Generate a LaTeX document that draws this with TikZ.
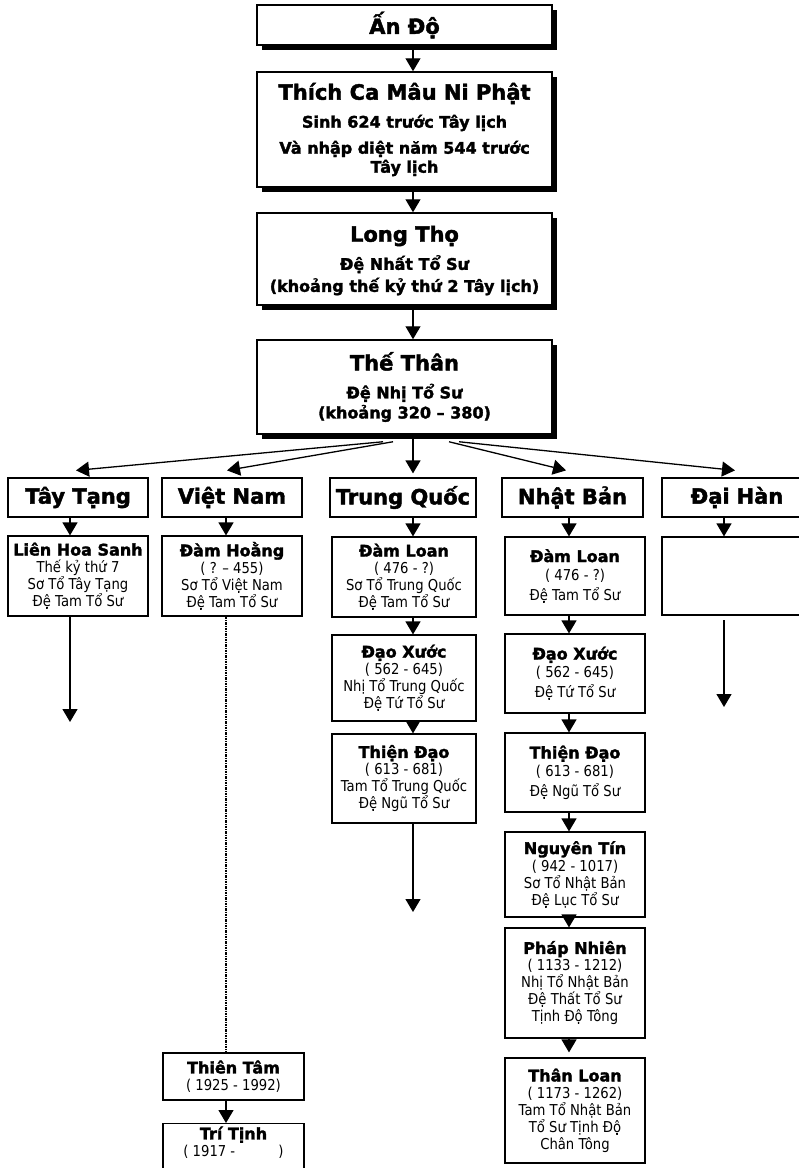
\documentclass[tikz,border=0pt]{standalone}
\usepackage{fontspec}
\setmainfont{DejaVu Sans}[BoldFeatures={FakeBold=2}]
\newfontfamily\regf{DejaVu Sans}[FakeStretch=0.88]
\usetikzlibrary{arrows.meta,shadows}
\newcommand\ttl[1]{{\fontsize{21}{24}\selectfont #1}}
\newcommand\nm[1]{{\rmfamily\fontsize{16}{18}\selectfont\bfseries #1}}
\begin{document}
\begin{tikzpicture}[x=1pt,y=-1pt,
  box/.style={draw, line width=1.2pt, fill=white, inner sep=2pt, align=center},
  topbox/.style={box, line width=1.5pt, minimum width=295pt,
     drop shadow={shadow xshift=5pt,shadow yshift=-5pt,fill=black,opacity=1},
     font=\fontsize{16}{19}\selectfont\bfseries},
  cbox/.style={box, minimum height=39pt, font=\fontsize{21}{24}\selectfont\bfseries},
  lbox/.style={box, font=\regf\fontsize{15}{17}\selectfont},
  arr/.style={line width=1.3pt, -{Triangle[width=15pt,length=13pt]}},
  dd/.style={line width=1.2pt, dash pattern=on 2.5pt off 1pt on 1pt off 1pt}
]
\useasboundingbox (0,0) rectangle (799,1168);
\fill[white] (0,0) rectangle (799,1168);
\clip (0,0) rectangle (799,1168);

% axes
\coordinate (xTop) at (413,0);
\coordinate (xTT) at (70,0);
\coordinate (xVN) at (226,0);
\coordinate (xTQ) at (413,0);
\coordinate (xNB) at (569,0);
\coordinate (xDH) at (724,0);

% top chain
\node[topbox, minimum height=40pt] (AnDo) at (404.5,25) {\ttl{Ấn Độ}};
\node[topbox, minimum height=115pt] (Thich) at (404.5,129.5)
  {\ttl{Thích Ca Mâu Ni Phật}\\[9pt] Sinh 624 trước Tây lịch\\[7pt] Và nhập diệt năm 544 trước\\ Tây lịch};
\node[topbox, minimum height=92pt] (LongTho) at (404.5,259)
  {\rule{0pt}{6pt}\\[-6pt]\ttl{Long Thọ}\\[8pt] Đệ Nhất Tổ Sư\\[3pt] (khoảng thế kỷ thứ 2 Tây lịch)};
\node[topbox, minimum height=94pt] (TheThan) at (404.5,387)
  {\ttl{Thế Thân}\\[9pt] Đệ Nhị Tổ Sư\\[1pt] (khoảng 320 – 380)};

\draw[arr] (AnDo.south -| xTop) -- (Thich.north -| xTop);
\draw[arr] (Thich.south -| xTop) -- (LongTho.north -| xTop);
\draw[arr] (LongTho.south -| xTop) -- (TheThan.north -| xTop);

% countries
\node[cbox, minimum width=140pt] (TayTang) at (78,497.5) {Tây Tạng};
\node[cbox, minimum width=140pt] (VietNam) at (232,497.5) {Việt Nam};
\node[cbox, minimum width=146pt] (TrungQuoc) at (403,497.5) {Trung Quốc};
\node[cbox, minimum width=141pt] (NhatBan) at (572.5,497.5) {Nhật Bản};
\node[cbox, minimum width=158pt, text width=124pt] (DaiHan) at (741,497.5) {\hspace*{-8pt}Đại Hàn};

% fan arrows
\draw[arr] ([xshift=-21.5pt,yshift=-7pt]TheThan.south) -- ([xshift=-2pt,yshift=7pt]TayTang.north);
\draw[arr] ([xshift=-11.5pt,yshift=-7pt]TheThan.south) -- ([xshift=-5pt,yshift=7pt]VietNam.north);
\draw[arr] (TheThan.south -| xTQ) -- ([yshift=4pt]TrungQuoc.north -| xTQ);
\draw[arr] ([xshift=44.5pt,yshift=-7pt]TheThan.south) -- ([xshift=-6.5pt,yshift=7pt]NhatBan.north);
\draw[arr] ([xshift=54.5pt,yshift=-7pt]TheThan.south) -- ([xshift=-6pt,yshift=7pt]DaiHan.north);

% Tay Tang column
\node[lbox, minimum width=140pt, minimum height=80pt] (LienHoa) at (78,576)
  {\nm{Liên Hoa Sanh}\\ Thế kỷ thứ 7\\ Sơ Tổ Tây Tạng\\ Đệ Tam Tổ Sư};
\coordinate (eTT) at (70,722);
\draw[arr] (TayTang.south -| xTT) -- (LienHoa.north -| xTT);
\draw[arr] (LienHoa.south -| xTT) -- (eTT);

% Viet Nam column
\node[lbox, minimum width=140pt, minimum height=80pt] (DamHoang) at (232,576)
  {\nm{Đàm Hoằng}\\ ( ? – 455)\\ Sơ Tổ Việt Nam\\ Đệ Tam Tổ Sư};
\node[lbox, minimum width=141pt, minimum height=47pt] (ThienTam) at (233.5,1076.5)
  {\nm{Thiên Tâm}\\ ( 1925 - 1992)};
\node[lbox, minimum width=141pt, anchor=north, inner ysep=3pt, text depth=20pt] (TriTinh) at (233.5,1123)
  {\nm{Trí Tịnh}\\ ( 1917 - \hspace{2.6em})};
\draw[arr] (VietNam.south -| xVN) -- (DamHoang.north -| xVN);
\draw[dd] (DamHoang.south -| xVN) -- (ThienTam.north -| xVN);
\draw[arr] (ThienTam.south -| xVN) -- (TriTinh.north -| xVN);

% Trung Quoc column
\node[lbox, minimum width=144pt, minimum height=80pt] (DLTQ) at (404,577)
  {\nm{Đàm Loan}\\ ( 476 - ?)\\ Sơ Tổ Trung Quốc\\ Đệ Tam Tổ Sư};
\node[lbox, minimum width=144pt, minimum height=86pt] (DXTQ) at (404,678)
  {\nm{Đạo Xước}\\ ( 562 - 645)\\ Nhị Tổ Trung Quốc\\ Đệ Tứ Tổ Sư};
\node[lbox, minimum width=144pt, minimum height=89pt] (TDTQ) at (404,778.5)
  {\nm{Thiện Đạo}\\ ( 613 - 681)\\ Tam Tổ Trung Quốc\\ Đệ Ngũ Tổ Sư};
\coordinate (eTQ) at (413,912);
\draw[arr] (TrungQuoc.south -| xTQ) -- (DLTQ.north -| xTQ);
\draw[arr] (DLTQ.south -| xTQ) -- (DXTQ.north -| xTQ);
\draw[arr] (DXTQ.south -| xTQ) -- (TDTQ.north -| xTQ);
\draw[arr] (TDTQ.south -| xTQ) -- (eTQ);

% Nhat Ban column
\node[lbox, minimum width=140pt, minimum height=78pt] (DLNB) at (575,576)
  {\nm{Đàm Loan}\\[1pt] ( 476 - ?)\\[3pt] Đệ Tam Tổ Sư};
\node[lbox, minimum width=140pt, minimum height=79pt] (DXNB) at (575,673.5)
  {\nm{Đạo Xước}\\[1pt] ( 562 - 645)\\[3pt] Đệ Tứ Tổ Sư};
\node[lbox, minimum width=140pt, minimum height=79pt] (TDNB) at (575,772.5)
  {\nm{Thiện Đạo}\\[1pt] ( 613 - 681)\\[3pt] Đệ Ngũ Tổ Sư};
\node[lbox, minimum width=140pt, minimum height=85pt] (NT) at (575,874.5)
  {\nm{Nguyên Tín}\\ ( 942 - 1017)\\ Sơ Tổ Nhật Bản\\ Đệ Lục Tổ Sư};
\node[lbox, minimum width=140pt, minimum height=110pt] (PN) at (575,983)
  {\nm{Pháp Nhiên}\\ ( 1133 - 1212)\\ Nhị Tổ Nhật Bản\\ Đệ Thất Tổ Sư\\ Tịnh Độ Tông};
\node[lbox, minimum width=140pt, minimum height=105pt] (TL) at (575,1110.5)
  {\nm{Thân Loan}\\ ( 1173 - 1262)\\ Tam Tổ Nhật Bản\\ Tổ Sư Tịnh Độ\\ Chân Tông};
\draw[arr] (NhatBan.south -| xNB) -- (DLNB.north -| xNB);
\draw[arr] (DLNB.south -| xNB) -- (DXNB.north -| xNB);
\draw[arr] (DXNB.south -| xNB) -- (TDNB.north -| xNB);
\draw[arr] (TDNB.south -| xNB) -- (NT.north -| xNB);
\draw[arr] (NT.south -| xNB) -- (PN.north -| xNB);
\draw[arr, shorten >=5pt] (PN.south -| xNB) -- (TL.north -| xNB);

% Dai Han column
\node[lbox, minimum width=158pt, minimum height=78pt] (DHbox) at (741,576) {};
\coordinate (sDH) at (724,620);
\coordinate (eDH) at (724,707);
\draw[arr] (DaiHan.south -| xDH) -- (DHbox.north -| xDH);
\draw[arr] (sDH) -- (eDH);
\end{tikzpicture}
\end{document}
